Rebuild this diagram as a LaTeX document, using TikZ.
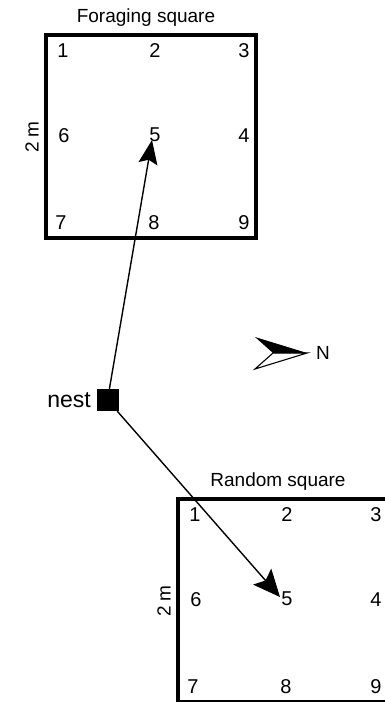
\documentclass[tikz,border=0pt]{standalone}
\usepackage{fontspec}
\setmainfont{Liberation Sans}
\usetikzlibrary{arrows.meta,positioning}
\tikzset{
  sqbox/.style={draw,line width=3.2pt,minimum width=210pt,minimum height=203pt,inner sep=0pt},
  sqtitle/.style={font=\fontsize{19}{21}\selectfont},
  cell/.style={font=\fontsize{20}{22}\selectfont,inner sep=1pt},
  path/.style={line width=1.4pt,-{Stealth[length=#1]}},
  path/.default={24pt,width=19pt,inset=4pt}
}
% one sampling square: name, left, top, title
\newcommand{\samplesquare}[4]{%
  \node[sqbox] (#1) at (#2+105,#3+101.5) {};%
  \node[sqtitle] (#1-title) at (#2+100,#3-17) {#4};%
  \node[sqtitle,rotate=90] (#1-side) at (#2-14,#3+102) {2 m};%
  \foreach \n/\dx/\dy in {1/17/16,2/109/16,3/198/16,6/18/101,5/109/100,4/198/101,7/15/188,8/108/188,9/198/188}
    \node[cell] (#1-\n) at (#2+\dx,#3+\dy) {\n};%
}

\begin{document}
\begin{tikzpicture}[x=1pt,y=-1pt]
  \useasboundingbox (0,0) rectangle (385,702);
  \samplesquare{fsq}{46}{35}{Foraging square}
  \samplesquare{rsq}{178}{499}{Random square}
  % nest
  \node[fill,minimum size=22pt,inner sep=0pt] (nest) at (107.5,400) {};
  \node[font=\fontsize{23}{26}\selectfont,left=2pt of nest] (nestlab) {nest};
  \coordinate (ftip) at (152,140);
  \coordinate (rtip) at (280,597);
  \draw[path] (nest) -- (ftip);
  \draw[path={27pt,width=24pt,inset=5pt}] (nest) -- (rtip);
  % north arrow
  \node[font=\fontsize{19}{21}\selectfont] (north) at (323,353) {N};
  \fill (255,337) -- (307,353) -- (273,353) -- cycle;
  \draw[line width=1.1pt,line join=miter] (273,353) -- (307,353) -- (255,369) -- cycle;
\end{tikzpicture}
\end{document}
